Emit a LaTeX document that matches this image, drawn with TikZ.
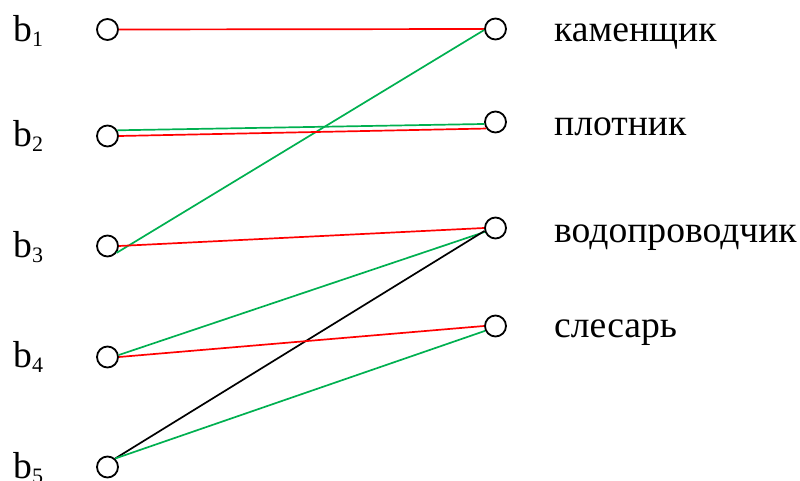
\documentclass[tikz,border=0pt]{standalone}
\usepackage{fontspec}
\setmainfont{Liberation Serif}
\definecolor{lgreen}{RGB}{0,176,80}
\definecolor{lred}{RGB}{255,0,0}
\newcommand{\bsub}[1]{b\raisebox{-5pt}{\fontsize{22}{22}\selectfont #1}}
\begin{document}
\begin{tikzpicture}[x=1pt,y=-1pt,
  vtx/.style={circle,draw=black,fill=white,line width=1.8pt,minimum size=21pt,inner sep=0pt},
  lbl/.style={anchor=base west,inner sep=0pt,font=\fontsize{37.6}{40}\selectfont},
  redl/.style={draw=lred,line width=1.7pt},
  greenl/.style={draw=lgreen,line width=1.7pt},
  blackl/.style={draw=black,line width=1.7pt}]
\useasboundingbox (0,0) rectangle (800,481);
% left vertices
\node[vtx] (b1) at (107.5,29.5) {};
\node[vtx] (b2) at (107.5,136) {};
\node[vtx] (b3) at (107.5,246) {};
\node[vtx] (b4) at (107.5,357) {};
\node[vtx] (b5) at (107.5,467) {};
% right vertices
\node[vtx] (r1) at (495.5,29) {};
\node[vtx] (r2) at (495.5,122) {};
\node[vtx] (r3) at (495.5,228) {};
\node[vtx] (r4) at (495.5,326) {};
% left labels
\node[lbl] (lb1) at (13,42) {\bsub{1}};
\node[lbl] (lb2) at (13,147) {\bsub{2}};
\node[lbl] (lb3) at (13,257) {\bsub{3}};
\node[lbl] (lb4) at (13,367) {\bsub{4}};
\node[lbl] (lb5) at (13,478) {\bsub{5}};
% right labels
\node[lbl] (lr1) at (554,42) {каменщик};
\node[lbl] (lr2) at (554,136) {плотник};
\node[lbl] (lr3) at (554,242) {водопроводчик};
\node[lbl] (lr4) at (554,337) {слесарь};
% edges
\draw[redl] (b1.east) -- (r1.west);
\draw[greenl] (b3.-37) -- (r1.185);
\draw[greenl] (b2.30) -- (r2.190);
\draw[redl] (b2.east) -- (r2.215);
\draw[redl] (b3.east) -- (r3.west);
\draw[greenl] (b4.10) -- (r3.200);
\draw[blackl] (b5.48) -- (r3.195);
\draw[redl] (b4.east) -- (r4.west);
\draw[greenl] (b5.48) -- (r4.205);
\end{tikzpicture}
\end{document}
